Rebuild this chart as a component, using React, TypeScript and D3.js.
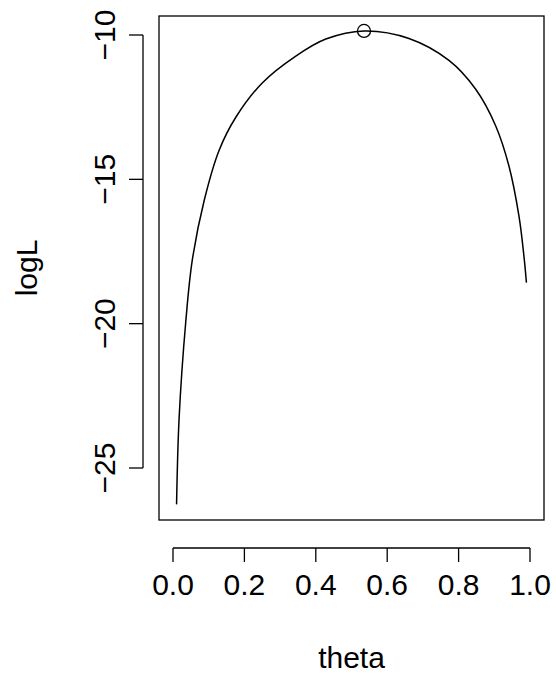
import * as d3 from "d3";

const thetaVals = [0.01, 0.017, 0.036, 0.054, 0.087, 0.129, 0.176, 0.25, 0.344, 0.428, 0.535, 0.661, 0.773, 0.848, 0.904, 0.941, 0.969, 0.983, 0.99];
const logLVals = [-26.26, -23.3, -19.9, -17.8, -15.75, -14.0, -12.85, -11.66, -10.73, -10.14, -9.86, -10.12, -10.88, -11.88, -13.15, -14.54, -16.27, -17.66, -18.58];
const maxPoint = { theta: 0.535, logL: -9.86 };
const xTicks = [0, 0.2, 0.4, 0.6, 0.8, 1.0];
const yTicks = [-25, -20, -15, -10];

export default function App() {
  const W = 556, H = 673;
  const left = 159, right = 544, top = 16, bottom = 520;
  const x = d3.scaleLinear().domain([0, 1]).range([173, 530]);
  const y = d3.scaleLinear().domain([-10, -25]).range([35, 468]);
  const line = d3
    .line<number>()
    .x((_, i) => x(thetaVals[i]))
    .y((d) => y(d))
    .curve(d3.curveCatmullRom.alpha(0.5));
  const font = "Liberation Sans, Arial, sans-serif";
  const axisY = 548, axisX = 143;
  const fs = 30;
  return (
    <svg width={W} height={H} style={{ position: "absolute", left: 0, top: 0, background: "white" }} fontFamily={font}>
      <rect x={left} y={top} width={right - left} height={bottom - top} fill="none" stroke="black" strokeWidth={1.3} />
      <path d={line(logLVals) || ""} fill="none" stroke="black" strokeWidth={1.5} />
      <circle cx={x(maxPoint.theta)} cy={y(maxPoint.logL)} r={6.5} fill="none" stroke="black" strokeWidth={1.3} />
      <line x1={x(0)} x2={x(1)} y1={axisY} y2={axisY} stroke="black" strokeWidth={1.3} />
      {xTicks.map((t) => (
        <g key={t}>
          <line x1={x(t)} x2={x(t)} y1={axisY} y2={axisY + 14} stroke="black" strokeWidth={1.3} />
          <text x={x(t)} y={595} fontSize={fs} textAnchor="middle">{t.toFixed(1)}</text>
        </g>
      ))}
      <line x1={axisX} x2={axisX} y1={y(-10)} y2={y(-25)} stroke="black" strokeWidth={1.3} />
      {yTicks.map((t) => (
        <g key={t}>
          <line x1={axisX} x2={axisX - 14} y1={y(t)} y2={y(t)} stroke="black" strokeWidth={1.3} />
          <text transform={`translate(115,${y(t)}) rotate(-90)`} fontSize={fs} textAnchor="middle">{"\u2212" + Math.abs(t)}</text>
        </g>
      ))}
      <text x={x(0.5)} y={668} fontSize={fs} textAnchor="middle">theta</text>
      <text transform={`translate(37,${(top + bottom) / 2}) rotate(-90)`} fontSize={fs} textAnchor="middle">logL</text>
    </svg>
  );
}
